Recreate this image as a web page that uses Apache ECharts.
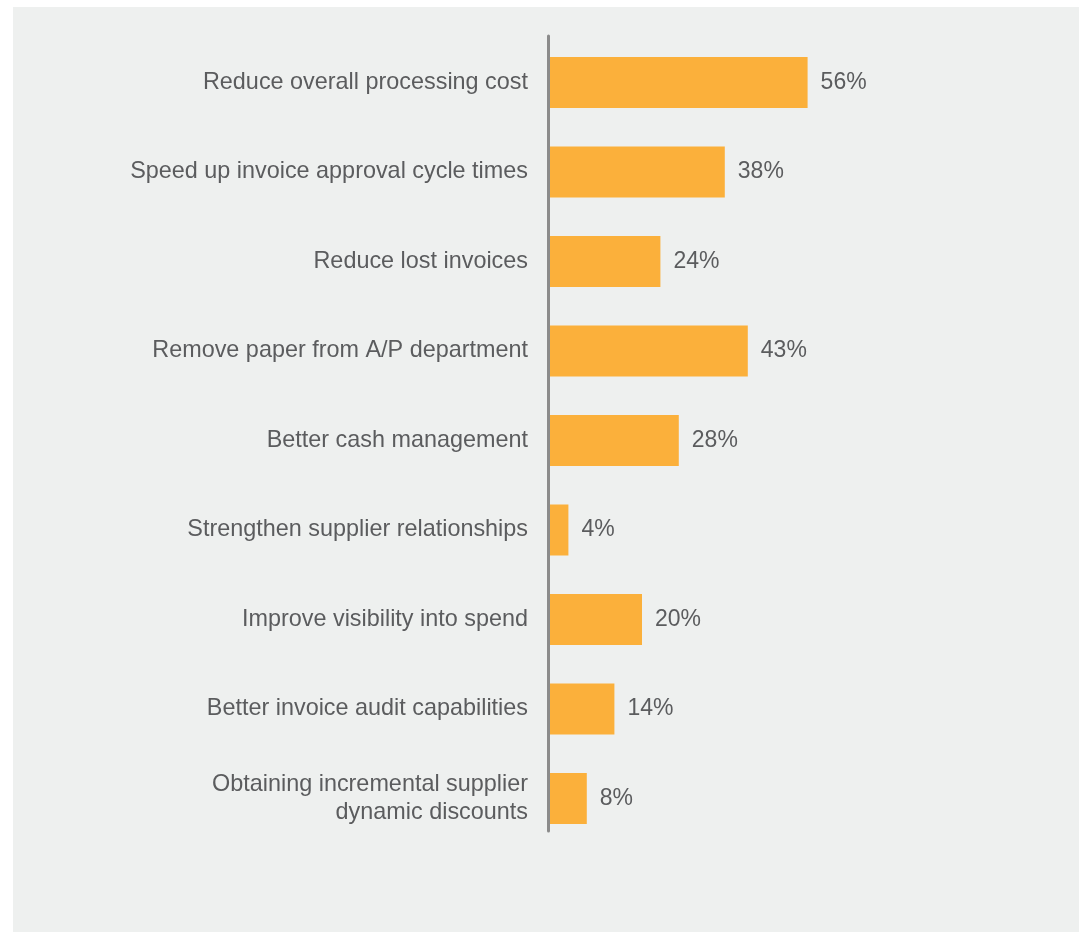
<!DOCTYPE html>
<html>
<head>
<meta charset="utf-8">
<script src="https://cdn.jsdelivr.net/npm/echarts@6/dist/echarts.min.js"></script>
<style>
  html, body { margin: 0; padding: 0; background: #ffffff; }
  #panel { position: absolute; left: 13px; top: 7px; width: 1066px; height: 925px; background: #eef0ef; }
  #chart { position: absolute; left: 0; top: 0; width: 1079px; height: 932px; }
</style>
</head>
<body>
<div id="panel"></div>
<div id="chart"></div>
<script>
// Goals of invoice automation, share of respondents (%)
const categories = [
  'Reduce overall processing cost',
  'Speed up invoice approval cycle times',
  'Reduce lost invoices',
  'Remove paper from A/P department',
  'Better cash management',
  'Strengthen supplier relationships',
  'Improve visibility into spend',
  'Better invoice audit capabilities',
  'Obtaining incremental supplier\ndynamic discounts'
];
const shares = [56, 38, 24, 43, 28, 4, 20, 14, 8];

const textFont = '"Liberation Sans", Arial, Helvetica, sans-serif';
const textGray = '#5b5c5e';

const chart = echarts.init(document.getElementById('chart'), null, { renderer: 'canvas' });
chart.setOption({
  backgroundColor: 'transparent',
  animation: false,
  grid: [
    { left: 550, top: 37.75, width: 460, height: 805.5, containLabel: false },
    // separate frame that only carries the vertical baseline
    { left: 548.5, top: 36, width: 400, height: 795, containLabel: false }
  ],
  xAxis: [
    { gridIndex: 0, type: 'value', min: 0, max: 100, show: false },
    { gridIndex: 1, type: 'value', min: 0, max: 1, show: false }
  ],
  yAxis: [
    {
      gridIndex: 0,
      type: 'category',
      data: categories,
      inverse: true,
      axisLine: { show: false },
      axisTick: { show: false },
      splitLine: { show: false },
      axisLabel: {
        margin: 22,
        color: textGray,
        fontFamily: textFont,
        fontSize: 23.4,
        lineHeight: 28,
        align: 'right'
      }
    },
    {
      gridIndex: 1,
      type: 'value',
      min: 0,
      max: 1,
      axisLine: { show: true, lineStyle: { color: '#8b8b8b', width: 3 } },
      axisTick: { show: false },
      axisLabel: { show: false },
      splitLine: { show: false }
    }
  ],
  series: [
    {
      type: 'bar',
      xAxisIndex: 0,
      yAxisIndex: 0,
      data: shares,
      barWidth: 51,
      itemStyle: { color: '#fbb03b' },
      label: {
        show: true,
        position: 'right',
        distance: 13,
        formatter: '{c}%',
        color: textGray,
        fontFamily: textFont,
        fontSize: 23
      }
    }
  ]
});
</script>
</body>
</html>
